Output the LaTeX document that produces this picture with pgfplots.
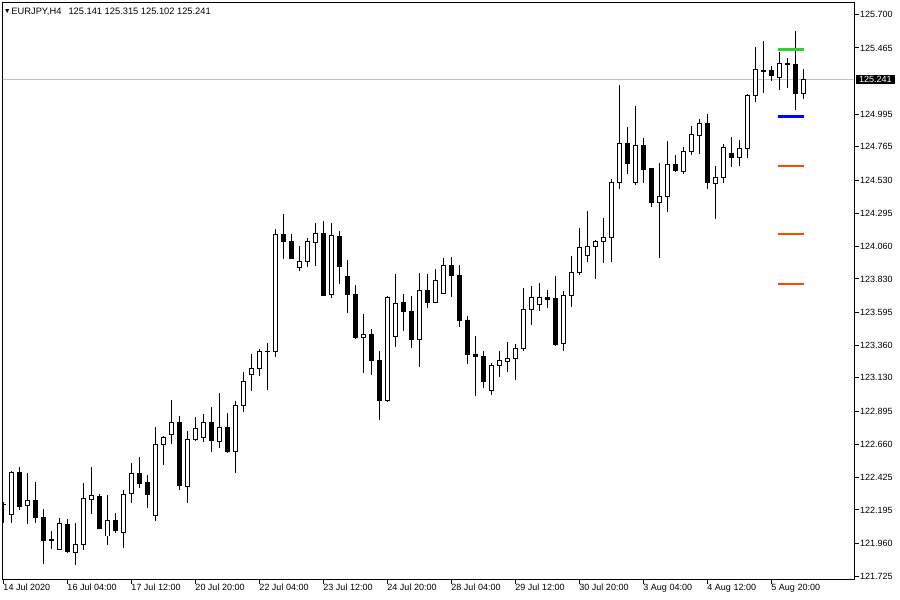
\documentclass[border=0pt]{standalone}
\usepackage{fontspec}
\setmainfont{Liberation Sans}
\usepackage{pgfplots}
\pgfplotsset{compat=1.18}
\usepackage{pgfplotstable}

\definecolor{mtgreen}{RGB}{50,205,50}
\definecolor{mtblue}{RGB}{0,0,255}
\definecolor{mtorange}{RGB}{255,69,0}
\definecolor{mtsilver}{RGB}{192,192,192}

% EURJPY H4 candles: index, open, high, low, close
\pgfplotstableread{
i o h l c
0 122.237 122.253 122.101 122.237
1 122.164 122.471 122.105 122.457
2 122.457 122.501 122.195 122.218
3 122.228 122.457 122.096 122.263
4 122.263 122.391 122.101 122.143
5 122.145 122.200 121.815 121.980
6 121.985 122.046 121.919 121.985
7 121.917 122.136 121.912 122.096
8 122.096 122.129 121.888 121.900
9 121.895 122.103 121.806 121.952
10 121.952 122.386 121.910 122.278
11 122.270 122.499 122.164 122.299
12 122.294 122.308 122.062 122.067
13 122.011 122.301 121.947 122.122
14 122.124 122.176 122.032 122.053
15 122.039 122.336 121.926 122.308
16 122.313 122.527 122.246 122.454
17 122.454 122.568 122.348 122.384
18 122.391 122.442 122.211 122.303
19 122.154 122.780 122.119 122.660
20 122.660 122.718 122.515 122.709
21 122.730 122.973 122.660 122.813
22 122.815 122.860 122.338 122.367
23 122.360 122.752 122.246 122.695
24 122.692 122.853 122.685 122.773
25 122.709 122.879 122.674 122.815
26 122.815 122.924 122.603 122.690
27 122.681 123.025 122.638 122.780
28 122.780 122.879 122.596 122.607
29 122.610 122.966 122.459 122.933
30 122.936 123.169 122.886 123.106
31 123.155 123.299 123.039 123.198
32 123.198 123.339 123.145 123.318
33 123.318 123.374 123.044 123.318
34 123.318 124.181 123.280 124.148
35 124.148 124.290 123.973 124.093
36 124.098 124.148 123.973 123.973
37 123.912 124.063 123.888 123.957
38 123.955 124.118 123.917 124.096
39 124.089 124.226 123.926 124.153
40 124.153 124.240 123.709 123.716
41 123.718 124.226 123.697 124.134
42 124.134 124.167 123.792 123.917
43 123.851 123.964 123.587 123.718
44 123.721 123.785 123.403 123.417
45 123.417 123.582 123.162 123.438
46 123.438 123.476 123.152 123.254
47 123.254 123.320 122.830 122.971
48 122.971 123.711 122.957 123.700
49 123.426 123.865 123.350 123.658
50 123.667 123.723 123.464 123.601
51 123.603 123.709 123.343 123.403
52 123.403 123.872 123.209 123.750
53 123.750 123.865 123.626 123.665
54 123.665 123.900 123.665 123.820
55 123.728 123.978 123.728 123.926
56 123.926 123.985 123.704 123.856
57 123.856 123.929 123.492 123.537
58 123.537 123.568 123.230 123.297
59 123.297 123.431 123.004 123.280
60 123.283 123.318 123.060 123.103
61 123.042 123.233 123.011 123.219
62 123.219 123.318 123.138 123.254
63 123.244 123.382 123.174 123.268
64 123.266 123.367 123.115 123.339
65 123.339 123.766 123.322 123.615
66 123.615 123.785 123.504 123.700
67 123.650 123.801 123.605 123.700
68 123.700 123.752 123.626 123.686
69 123.693 123.849 123.358 123.370
70 123.372 123.745 123.322 123.714
71 123.714 123.992 123.633 123.877
72 123.877 124.190 123.860 124.054
73 123.997 124.311 123.952 124.061
74 124.061 124.106 123.832 124.096
75 124.096 124.261 123.941 124.127
76 124.125 124.535 123.952 124.514
77 124.514 125.202 124.471 124.792
78 124.792 124.905 124.575 124.646
79 124.514 125.054 124.497 124.776
80 124.776 124.827 124.511 124.606
81 124.613 124.613 124.341 124.369
82 124.372 124.650 123.980 124.415
83 124.415 124.806 124.306 124.641
84 124.641 124.707 124.589 124.599
85 124.592 124.762 124.575 124.733
86 124.733 124.912 124.705 124.854
87 124.846 124.962 124.716 124.931
88 124.931 124.997 124.469 124.511
89 124.507 124.629 124.256 124.549
90 124.549 124.790 124.511 124.762
91 124.719 124.834 124.624 124.688
92 124.691 124.811 124.631 124.754
93 124.754 125.139 124.688 125.130
94 125.130 125.471 125.084 125.311
95 125.306 125.514 125.148 125.306
96 125.306 125.337 125.231 125.271
97 125.257 125.436 125.169 125.356
98 125.356 125.394 125.183 125.346
99 125.349 125.585 125.028 125.141
100 125.141 125.315 125.102 125.241
}\candles

\begin{document}
\begin{tikzpicture}
\useasboundingbox (0,0) rectangle (900bp,-600bp);
\begin{axis}[
  at={(2.7bp,-2.3bp)}, anchor=north west,
  scale only axis, width=851.3bp, height=577bp,
  xmin=-0.075, xmax=106.34, ymin=121.704, ymax=125.788,
  axis line style={black, line width=1bp},
  tick align=outside, major tick length=4.5bp,
  tick style={black, line width=1bp},
  xtick pos=left, ytick pos=right, yticklabel pos=right,
  xtick={0,8,...,96},
  xticklabels={14 Jul 2020, 16 Jul 04:00, 17 Jul 12:00, 20 Jul 20:00,
    22 Jul 04:00, 23 Jul 12:00, 24 Jul 20:00, 28 Jul 04:00, 29 Jul 12:00,
    30 Jul 20:00, 3 Aug 04:00, 4 Aug 12:00, 5 Aug 20:00},
  ytick={121.725,121.960,122.195,122.425,122.660,122.895,123.130,123.360,
    123.595,123.830,124.060,124.295,124.530,124.765,124.995,125.465,125.700},
  yticklabels={121.725,121.960,122.195,122.425,122.660,122.895,123.130,123.360,
    123.595,123.830,124.060,124.295,124.530,124.765,124.995,125.465,125.700},
  ticklabel style={font=\fontsize{9bp}{10bp}\selectfont},
  xticklabel style={anchor=north west, inner sep=0pt},
  yticklabel style={anchor=west, inner sep=0pt, xshift=1.5bp},
  extra y ticks={125.241}, extra y tick labels={125.241},
  extra y tick style={major tick length=0pt,
    yticklabel style={fill=black, text=white, inner xsep=3bp, inner ysep=1bp, xshift=0.5bp}},
]
% current price line
\addplot[mtsilver, line width=1bp] coordinates {(-1,125.241) (110,125.241)};

% wicks
\addplot[draw=none, no markers,
  error bars/.cd, y dir=both, y explicit, error mark=none,
  error bar style={draw=black, line width=1bp}]
  table[x=i, y expr={(\thisrow{h}+\thisrow{l})/2},
    y error expr={(\thisrow{h}-\thisrow{l})/2}] {\candles};
% bodies (black, also the outline of the white ones)
\addplot[draw=none, no markers,
  error bars/.cd, y dir=both, y explicit, error mark=none,
  error bar style={draw=black, line width=5bp}]
  table[x=i, y expr={(\thisrow{o}+\thisrow{c})/2},
    y error expr={abs(\thisrow{o}-\thisrow{c})/2+0.0035}] {\candles};
% white fill of the bullish bodies
\addplot[draw=none, no markers,
  error bars/.cd, y dir=both, y explicit, error mark=none,
  error bar style={draw=white, line width=3bp}]
  table[x=i, y expr={(\thisrow{o}+\thisrow{c})/2},
    y error expr={(\thisrow{c}>=\thisrow{o})*max(abs(\thisrow{o}-\thisrow{c})/2-0.0035,0)}] {\candles};

% indicator levels
\addplot[mtgreen, line width=2.7bp] coordinates {(96.9,125.455) (100.1,125.455)};
\addplot[mtblue, line width=2.7bp] coordinates {(96.9,124.981) (100.1,124.981)};
\addplot[mtorange, line width=2.7bp] coordinates {(96.9,124.629) (100.1,124.629)};
\addplot[mtorange, line width=2.7bp] coordinates {(96.9,124.148) (100.1,124.148)};
\addplot[mtorange, line width=2.7bp] coordinates {(96.9,123.794) (100.1,123.794)};

\node[anchor=base west, inner sep=0pt, font=\fontsize{7bp}{7bp}\selectfont]
  at (rel axis cs:0,1) [xshift=1bp, yshift=-11bp] {▼};
\node[anchor=base west, inner sep=0pt, font=\fontsize{9.3bp}{10bp}\selectfont]
  at (rel axis cs:0,1) [xshift=8.6bp, yshift=-12bp]
  {EURJPY,H4\hspace{4.5bp} 125.141 125.315 125.102 125.241};
\end{axis}
\end{tikzpicture}
\end{document}
